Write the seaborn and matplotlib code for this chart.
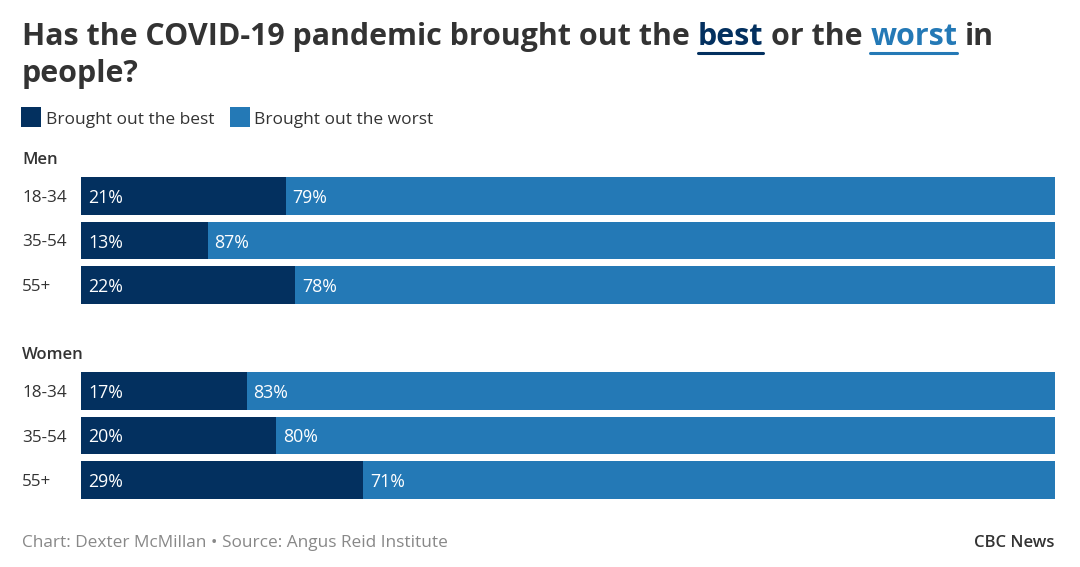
import matplotlib.pyplot as plt
import seaborn as sns
import pandas as pd
from matplotlib.lines import Line2D
from matplotlib.patches import Rectangle
from matplotlib.transforms import blended_transform_factory

# data
ages = ["18-34", "35-54", "55+"]
men_best = [21, 13, 22]
men_worst = [79, 87, 78]
women_best = [17, 20, 29]
women_worst = [83, 80, 71]
legend_labels = ["Brought out the best", "Brought out the worst"]

BEST = "#03305f"
WORST = "#2479b6"
TXT = "#333333"

sns.set_theme(style="white")
plt.rcParams["font.family"] = ["Open Sans", "DejaVu Sans"]

W, H = 1080, 567
fig = plt.figure(figsize=(W / 100, H / 100), dpi=100)


def fx(px):
    return px / W


def fy(py):
    return 1 - py / H


# one panel per gender
def panel(top, bottom, name, best, worst):
    ax = fig.add_axes([fx(81), fy(bottom), (1055 - 81) / W, (bottom - top) / H])
    df = pd.DataFrame({"age": ages, "best": best, "worst": worst})
    df["total"] = df["best"] + df["worst"]
    sns.barplot(data=df, x="total", y="age", order=ages, color=WORST,
                saturation=1, width=0.85, orient="h", linewidth=0, ax=ax)
    sns.barplot(data=df, x="best", y="age", order=ages, color=BEST,
                saturation=1, width=0.85, orient="h", linewidth=0, ax=ax)
    ax.set_xlim(0, 100)
    ax.set_ylim(2.425, -0.425)
    ax.axis("off")
    tr = blended_transform_factory(fig.transFigure, ax.transData)
    for i, (a, b, w) in enumerate(zip(ages, best, worst)):
        ax.text(fx(22), i, a, transform=tr, ha="left", va="center_baseline",
                fontsize=12.3, color=TXT)
        ax.annotate(f"{b}%", (0, i), xytext=(5, 0), textcoords="offset points",
                    ha="left", va="center_baseline", color="white", fontsize=12.8)
        ax.annotate(f"{w}%", (b, i), xytext=(5, 0), textcoords="offset points",
                    ha="left", va="center_baseline", color="white", fontsize=12.8)
    fig.text(fx(22), fy(top - 19), name, ha="left", va="center_baseline",
             fontsize=12, fontweight="semibold", color=TXT)
    return ax


panel(177, 304, "Men", men_best, men_worst)
panel(372, 499, "Women", women_best, women_worst)

# title with coloured, underlined words
renderer = fig.canvas.get_renderer()
tkw = dict(fontsize=21.9, fontweight="bold", va="baseline", ha="left")


def text_w(s):
    t = fig.text(0, 0, s, **tkw)
    w = t.get_window_extent(renderer).width
    t.remove()
    return w


space = text_w("x x") - text_w("xx")
pieces = [("Has the COVID-19 pandemic brought out the", TXT, False),
          ("best", BEST, True),
          ("or the", TXT, False),
          ("worst", WORST, True),
          ("in", TXT, False)]
x = 22
for s, c, ul in pieces:
    t = fig.text(fx(x), fy(45), s, color=c, **tkw)
    w = t.get_window_extent(renderer).width
    if ul:
        fig.add_artist(Line2D([fx(x), fx(x + w)], [fy(52.5), fy(52.5)],
                              lw=2.2, color=c, transform=fig.transFigure))
    x += w + space
fig.text(fx(22), fy(82), "people?", color=TXT, **tkw)

# legend: squares + labels
x = 21
for lab, c in zip(legend_labels, [BEST, WORST]):
    fig.add_artist(Rectangle((fx(x), fy(127)), 20 / W, 20 / H, facecolor=c,
                             edgecolor="none", transform=fig.transFigure))
    t = fig.text(fx(x + 25), fy(117.5), lab, ha="left", va="center_baseline",
                 fontsize=12.5, color=TXT)
    x += 25 + t.get_window_extent(renderer).width + 15

# footer
fig.text(fx(22), fy(541), "Chart: Dexter McMillan \u2022 Source: Angus Reid Institute",
         ha="left", va="center_baseline", fontsize=12.4, color="#888888")
fig.text(fx(1055), fy(541), "CBC News", ha="right", va="center_baseline",
         fontsize=12, fontweight="semibold", color=TXT)

fig.savefig("out.png", dpi=100, facecolor="white")
